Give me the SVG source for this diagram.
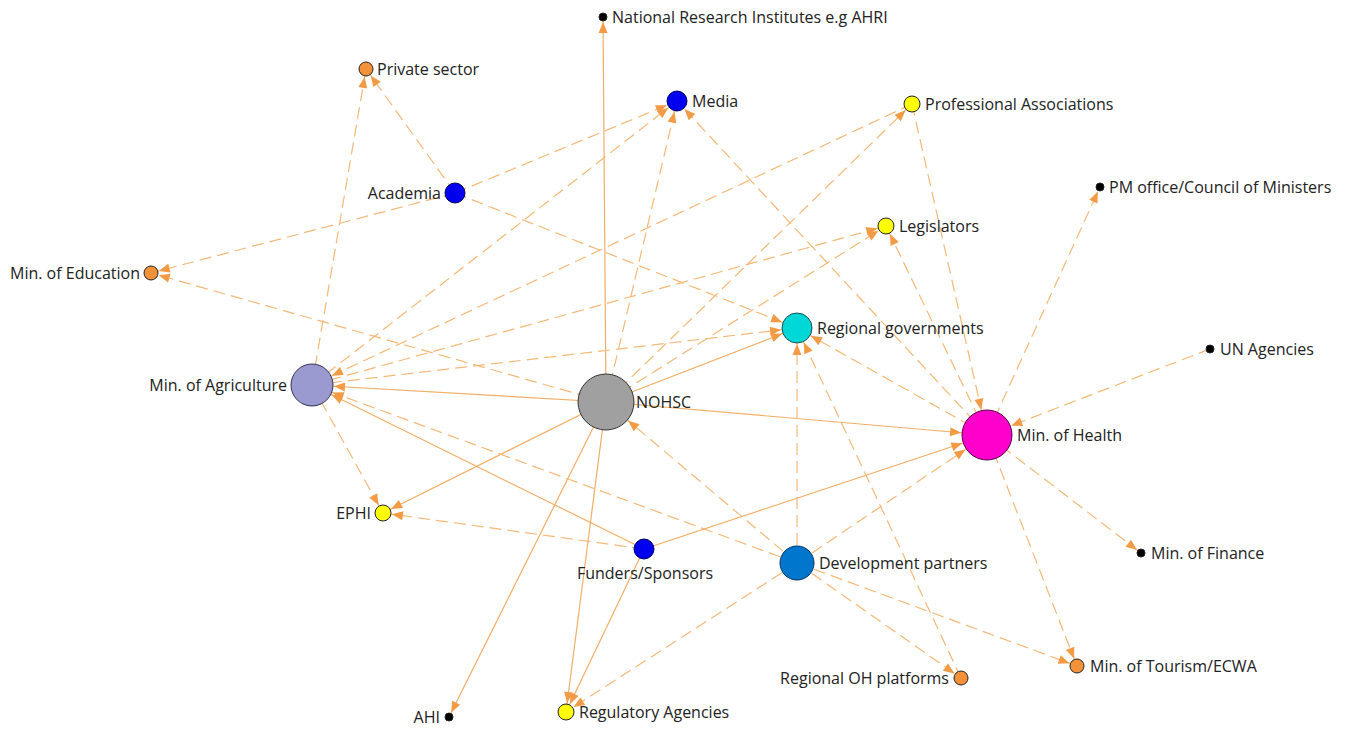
<svg xmlns="http://www.w3.org/2000/svg" width="1349" height="730" viewBox="0 0 1349 730">
<style>
.e line{stroke:#f2ad66;stroke-width:1.2;fill:none}
.e .d{stroke-dasharray:12 6;stroke:#f4b877}
text{font-family:"Open Sans","Liberation Sans",sans-serif;font-size:16px;fill:#222}
.end{text-anchor:end}
.mid{text-anchor:middle}
.n circle{stroke:#222;stroke-width:1}
</style>
<defs>
<marker id="a4" markerUnits="userSpaceOnUse" markerWidth="12" markerHeight="9" refX="16" refY="4.5" orient="auto" overflow="visible"><path d="M0,0L11,4.5L0,9z" fill="#f39a45"/></marker>
<marker id="a7" markerUnits="userSpaceOnUse" markerWidth="12" markerHeight="9" refX="19" refY="4.5" orient="auto" overflow="visible"><path d="M0,0L11,4.5L0,9z" fill="#f39a45"/></marker>
<marker id="a8" markerUnits="userSpaceOnUse" markerWidth="12" markerHeight="9" refX="20" refY="4.5" orient="auto" overflow="visible"><path d="M0,0L11,4.5L0,9z" fill="#f39a45"/></marker>
<marker id="a10" markerUnits="userSpaceOnUse" markerWidth="12" markerHeight="9" refX="22" refY="4.5" orient="auto" overflow="visible"><path d="M0,0L11,4.5L0,9z" fill="#f39a45"/></marker>
<marker id="a15" markerUnits="userSpaceOnUse" markerWidth="12" markerHeight="9" refX="27" refY="4.5" orient="auto" overflow="visible"><path d="M0,0L11,4.5L0,9z" fill="#f39a45"/></marker>
<marker id="a21" markerUnits="userSpaceOnUse" markerWidth="12" markerHeight="9" refX="33" refY="4.5" orient="auto" overflow="visible"><path d="M0,0L11,4.5L0,9z" fill="#f39a45"/></marker>
<marker id="a25" markerUnits="userSpaceOnUse" markerWidth="12" markerHeight="9" refX="37" refY="4.5" orient="auto" overflow="visible"><path d="M0,0L11,4.5L0,9z" fill="#f39a45"/></marker>
<marker id="a28" markerUnits="userSpaceOnUse" markerWidth="12" markerHeight="9" refX="40" refY="4.5" orient="auto" overflow="visible"><path d="M0,0L11,4.5L0,9z" fill="#f39a45"/></marker>
</defs>
<rect width="1349" height="730" fill="#fff"/>
<g id="connectors" class="e">
<line x1="606" y1="402" x2="603" y2="17" marker-end="url(#a4)"/>
<line x1="606" y1="402" x2="312" y2="385" marker-end="url(#a21)"/>
<line x1="606" y1="402" x2="987" y2="435" marker-end="url(#a25)"/>
<line x1="606" y1="402" x2="797" y2="328" marker-end="url(#a15)"/>
<line x1="606" y1="402" x2="383" y2="513" marker-end="url(#a8)"/>
<line x1="606" y1="402" x2="449" y2="717" marker-end="url(#a4)"/>
<line x1="606" y1="402" x2="566" y2="712" marker-end="url(#a8)"/>
<line x1="644" y1="549" x2="312" y2="385" marker-end="url(#a21)"/>
<line x1="644" y1="549" x2="987" y2="435" marker-end="url(#a25)"/>
<line x1="644" y1="549" x2="566" y2="712" marker-end="url(#a8)"/>
<line class="d" x1="455" y1="193" x2="366" y2="69" marker-end="url(#a7)"/>
<line class="d" x1="312" y1="385" x2="366" y2="69" marker-end="url(#a7)"/>
<line class="d" x1="455" y1="193" x2="677" y2="101" marker-end="url(#a10)"/>
<line class="d" x1="455" y1="193" x2="151" y2="273" marker-end="url(#a7)"/>
<line class="d" x1="455" y1="193" x2="797" y2="328" marker-end="url(#a15)"/>
<line class="d" x1="312" y1="385" x2="677" y2="101" marker-end="url(#a10)"/>
<line class="d" x1="606" y1="402" x2="677" y2="101" marker-end="url(#a10)"/>
<line class="d" x1="987" y1="435" x2="677" y2="101" marker-end="url(#a10)"/>
<line class="d" x1="912" y1="104" x2="312" y2="385" marker-end="url(#a21)"/>
<line class="d" x1="606" y1="402" x2="912" y2="104" marker-end="url(#a8)"/>
<line class="d" x1="312" y1="385" x2="886" y2="226" marker-end="url(#a8)"/>
<line class="d" x1="606" y1="402" x2="886" y2="226" marker-end="url(#a8)"/>
<line class="d" x1="987" y1="435" x2="886" y2="226" marker-end="url(#a8)"/>
<line class="d" x1="312" y1="385" x2="797" y2="328" marker-end="url(#a15)"/>
<line class="d" x1="606" y1="402" x2="151" y2="273" marker-end="url(#a7)"/>
<line class="d" x1="912" y1="104" x2="987" y2="435" marker-end="url(#a25)"/>
<line class="d" x1="987" y1="435" x2="1100" y2="187" marker-end="url(#a4)"/>
<line class="d" x1="1210" y1="349" x2="987" y2="435" marker-end="url(#a25)"/>
<line class="d" x1="987" y1="435" x2="1141" y2="553" marker-end="url(#a4)"/>
<line class="d" x1="987" y1="435" x2="1077" y2="666" marker-end="url(#a7)"/>
<line class="d" x1="987" y1="435" x2="797" y2="328" marker-end="url(#a15)"/>
<line class="d" x1="797" y1="563" x2="797" y2="328" marker-end="url(#a15)"/>
<line class="d" x1="961" y1="678" x2="797" y2="328" marker-end="url(#a15)"/>
<line class="d" x1="797" y1="563" x2="961" y2="678" marker-end="url(#a7)"/>
<line class="d" x1="797" y1="563" x2="1077" y2="666" marker-end="url(#a7)"/>
<line class="d" x1="797" y1="563" x2="987" y2="435" marker-end="url(#a25)"/>
<line class="d" x1="797" y1="563" x2="606" y2="402" marker-end="url(#a28)"/>
<line class="d" x1="797" y1="563" x2="312" y2="385" marker-end="url(#a21)"/>
<line class="d" x1="797" y1="563" x2="566" y2="712" marker-end="url(#a8)"/>
<line class="d" x1="644" y1="549" x2="383" y2="513" marker-end="url(#a8)"/>
<line class="d" x1="312" y1="385" x2="383" y2="513" marker-end="url(#a8)"/>
</g>
<g id="n-nri" class="n"><circle cx="603" cy="17" r="4" fill="#000"/><text x="612" y="23">National Research Institutes e.g AHRI</text></g>
<g id="n-private" class="n"><circle cx="366" cy="69" r="7" fill="#f4923a"/><text x="377" y="75">Private sector</text></g>
<g id="n-media" class="n"><circle cx="677" cy="101" r="10" fill="#0000ee" style="stroke:#000066"/><text x="692" y="107">Media</text></g>
<g id="n-prof" class="n"><circle cx="912" cy="104" r="8" fill="#ffff00"/><text x="925" y="110">Professional Associations</text></g>
<g id="n-academia" class="n"><circle cx="455" cy="193" r="10" fill="#0000ee" style="stroke:#000066"/><text class="end" x="441" y="199">Academia</text></g>
<g id="n-pm" class="n"><circle cx="1100" cy="187" r="4" fill="#000"/><text x="1109" y="193">PM office/Council of Ministers</text></g>
<g id="n-legis" class="n"><circle cx="886" cy="226" r="8" fill="#ffff00"/><text x="899" y="232">Legislators</text></g>
<g id="n-mined" class="n"><circle cx="151" cy="273" r="7" fill="#f4923a"/><text class="end" x="140" y="279">Min. of Education</text></g>
<g id="n-reggov" class="n"><circle cx="797" cy="328" r="15" fill="#00d8d8" style="stroke:#1a4d4d"/><text x="817" y="334">Regional governments</text></g>
<g id="n-un" class="n"><circle cx="1210" cy="349" r="4" fill="#000"/><text x="1220" y="355">UN Agencies</text></g>
<g id="n-agri" class="n"><circle cx="312" cy="385" r="21" fill="#9a9ad0" style="stroke:#333355"/><text class="end" x="287" y="391">Min. of Agriculture</text></g>
<g id="n-nohsc" class="n"><circle cx="606" cy="402" r="28" fill="#a0a0a0" style="stroke:#333"/><text x="636" y="408">NOHSC</text></g>
<g id="n-moh" class="n"><circle cx="987" cy="435" r="25" fill="#ff00cc" style="stroke:#550044"/><text x="1017" y="441">Min. of Health</text></g>
<g id="n-ephi" class="n"><circle cx="383" cy="513" r="8" fill="#ffff00"/><text class="end" x="371" y="519">EPHI</text></g>
<g id="n-funders" class="n"><circle cx="644" cy="549" r="10" fill="#0000ee" style="stroke:#000066"/><text class="mid" x="645" y="579">Funders/Sponsors</text></g>
<g id="n-devp" class="n"><circle cx="797" cy="563" r="17" fill="#0077cc" style="stroke:#003366"/><text x="819" y="569">Development partners</text></g>
<g id="n-finance" class="n"><circle cx="1141" cy="553" r="4" fill="#000"/><text x="1151" y="559">Min. of Finance</text></g>
<g id="n-tourism" class="n"><circle cx="1077" cy="666" r="7" fill="#f4923a"/><text x="1090" y="672">Min. of Tourism/ECWA</text></g>
<g id="n-regoh" class="n"><circle cx="961" cy="678" r="7" fill="#f4923a"/><text class="end" x="949" y="684">Regional OH platforms</text></g>
<g id="n-ahi" class="n"><circle cx="449" cy="717" r="4" fill="#000"/><text class="end" x="440" y="723">AHI</text></g>
<g id="n-reg" class="n"><circle cx="566" cy="712" r="8" fill="#ffff00"/><text x="579" y="718">Regulatory Agencies</text></g>
</svg>
